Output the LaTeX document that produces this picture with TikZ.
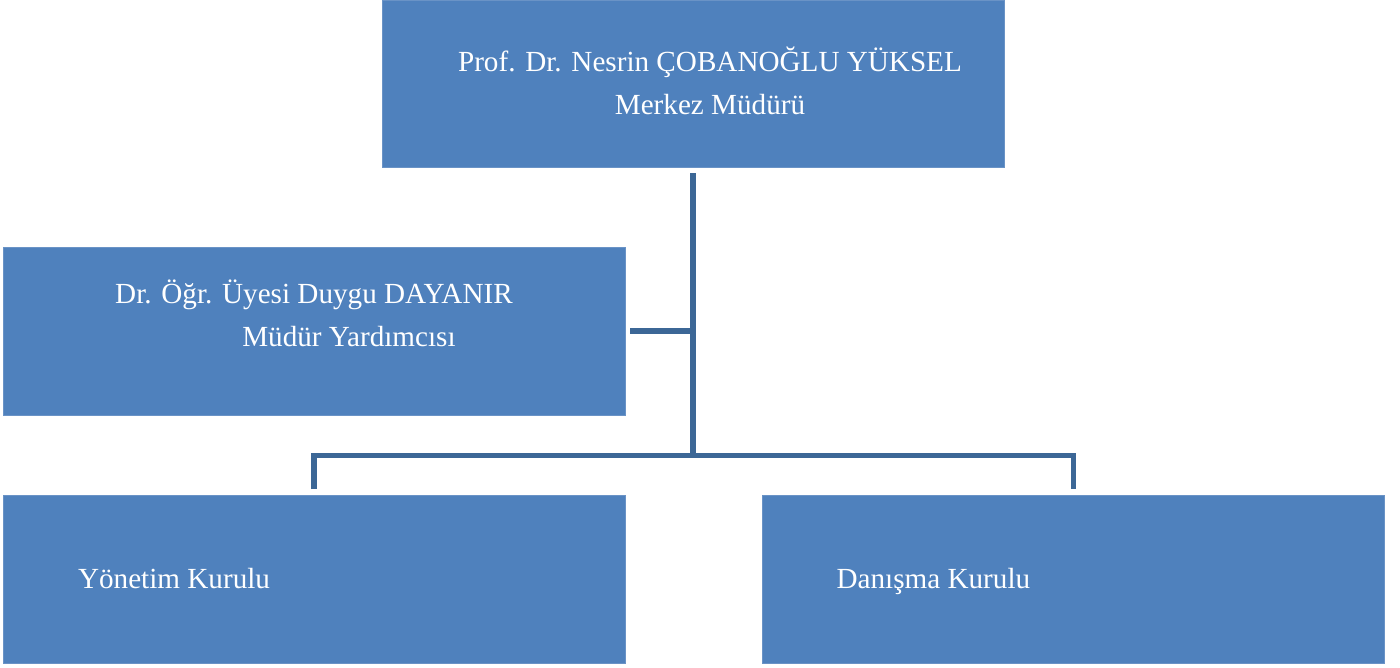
\documentclass[tikz,border=0pt]{standalone}
\usepackage{fontspec}
\setmainfont{Liberation Serif}
\usetikzlibrary{positioning,calc}
\definecolor{boxblue}{HTML}{4F81BD}
\definecolor{boxedge}{HTML}{6A93C6}
\definecolor{linkblue}{HTML}{3C6796}

\begin{document}
\begin{tikzpicture}[
        x=0.02cm, y=-0.02cm,
        box/.style={fill=boxblue, draw=boxedge, line width=0.4pt, inner sep=0pt, minimum width=124.4mm, minimum height=33.6mm},
        lab/.style={text=white, align=center, inner sep=0pt, font=\fontsize{16.6}{24.4}\selectfont},
        link/.style={draw=linkblue, line width=3.1pt}
    ]
        \useasboundingbox (0,0) rectangle (1400,668);

        % Boxes
        \node[box, minimum height=33.4mm] (dir) at (693,83.5) {};
        \node[box] (dep) at (314,331) {};
        \node[box] (yk) at (314,579.5) {};
        \node[box, right=27.4mm of yk] (dk) {};

        % Texts
        \node[lab] (dirtext) at ([xshift=3.4mm, yshift=0.6mm]dir.center) {Prof. Dr. Nesrin ÇOBANOĞLU YÜKSEL\\Merkez Müdürü};
        \node[lab] (deptext) at ([yshift=3.5mm]dep.center) {Dr. Öğr. Üyesi Duygu DAYANIR\\\hspace*{14mm}Müdür Yardımcısı};
        \node[lab, anchor=base west] (yktext) at ([xshift=15mm, yshift=-1.9mm]yk.west) {Yönetim Kurulu};
        \node[lab, anchor=base west] (dktext) at ([xshift=14.8mm, yshift=-1.9mm]dk.west) {Danışma Kurulu};

        % Connectors
        \coordinate (hub) at (dir.south |- 0,455.5);
        \draw[link] ([yshift=-1.2mm]dir.south) -- (hub);
        \draw[link] ([xshift=1mm]dep.east) -- (dep.east -| hub);
        \draw[link] ([yshift=1.2mm]yk.north) |- (hub) -| ([yshift=1.2mm]dk.north);
    \end{tikzpicture}
\end{document}
